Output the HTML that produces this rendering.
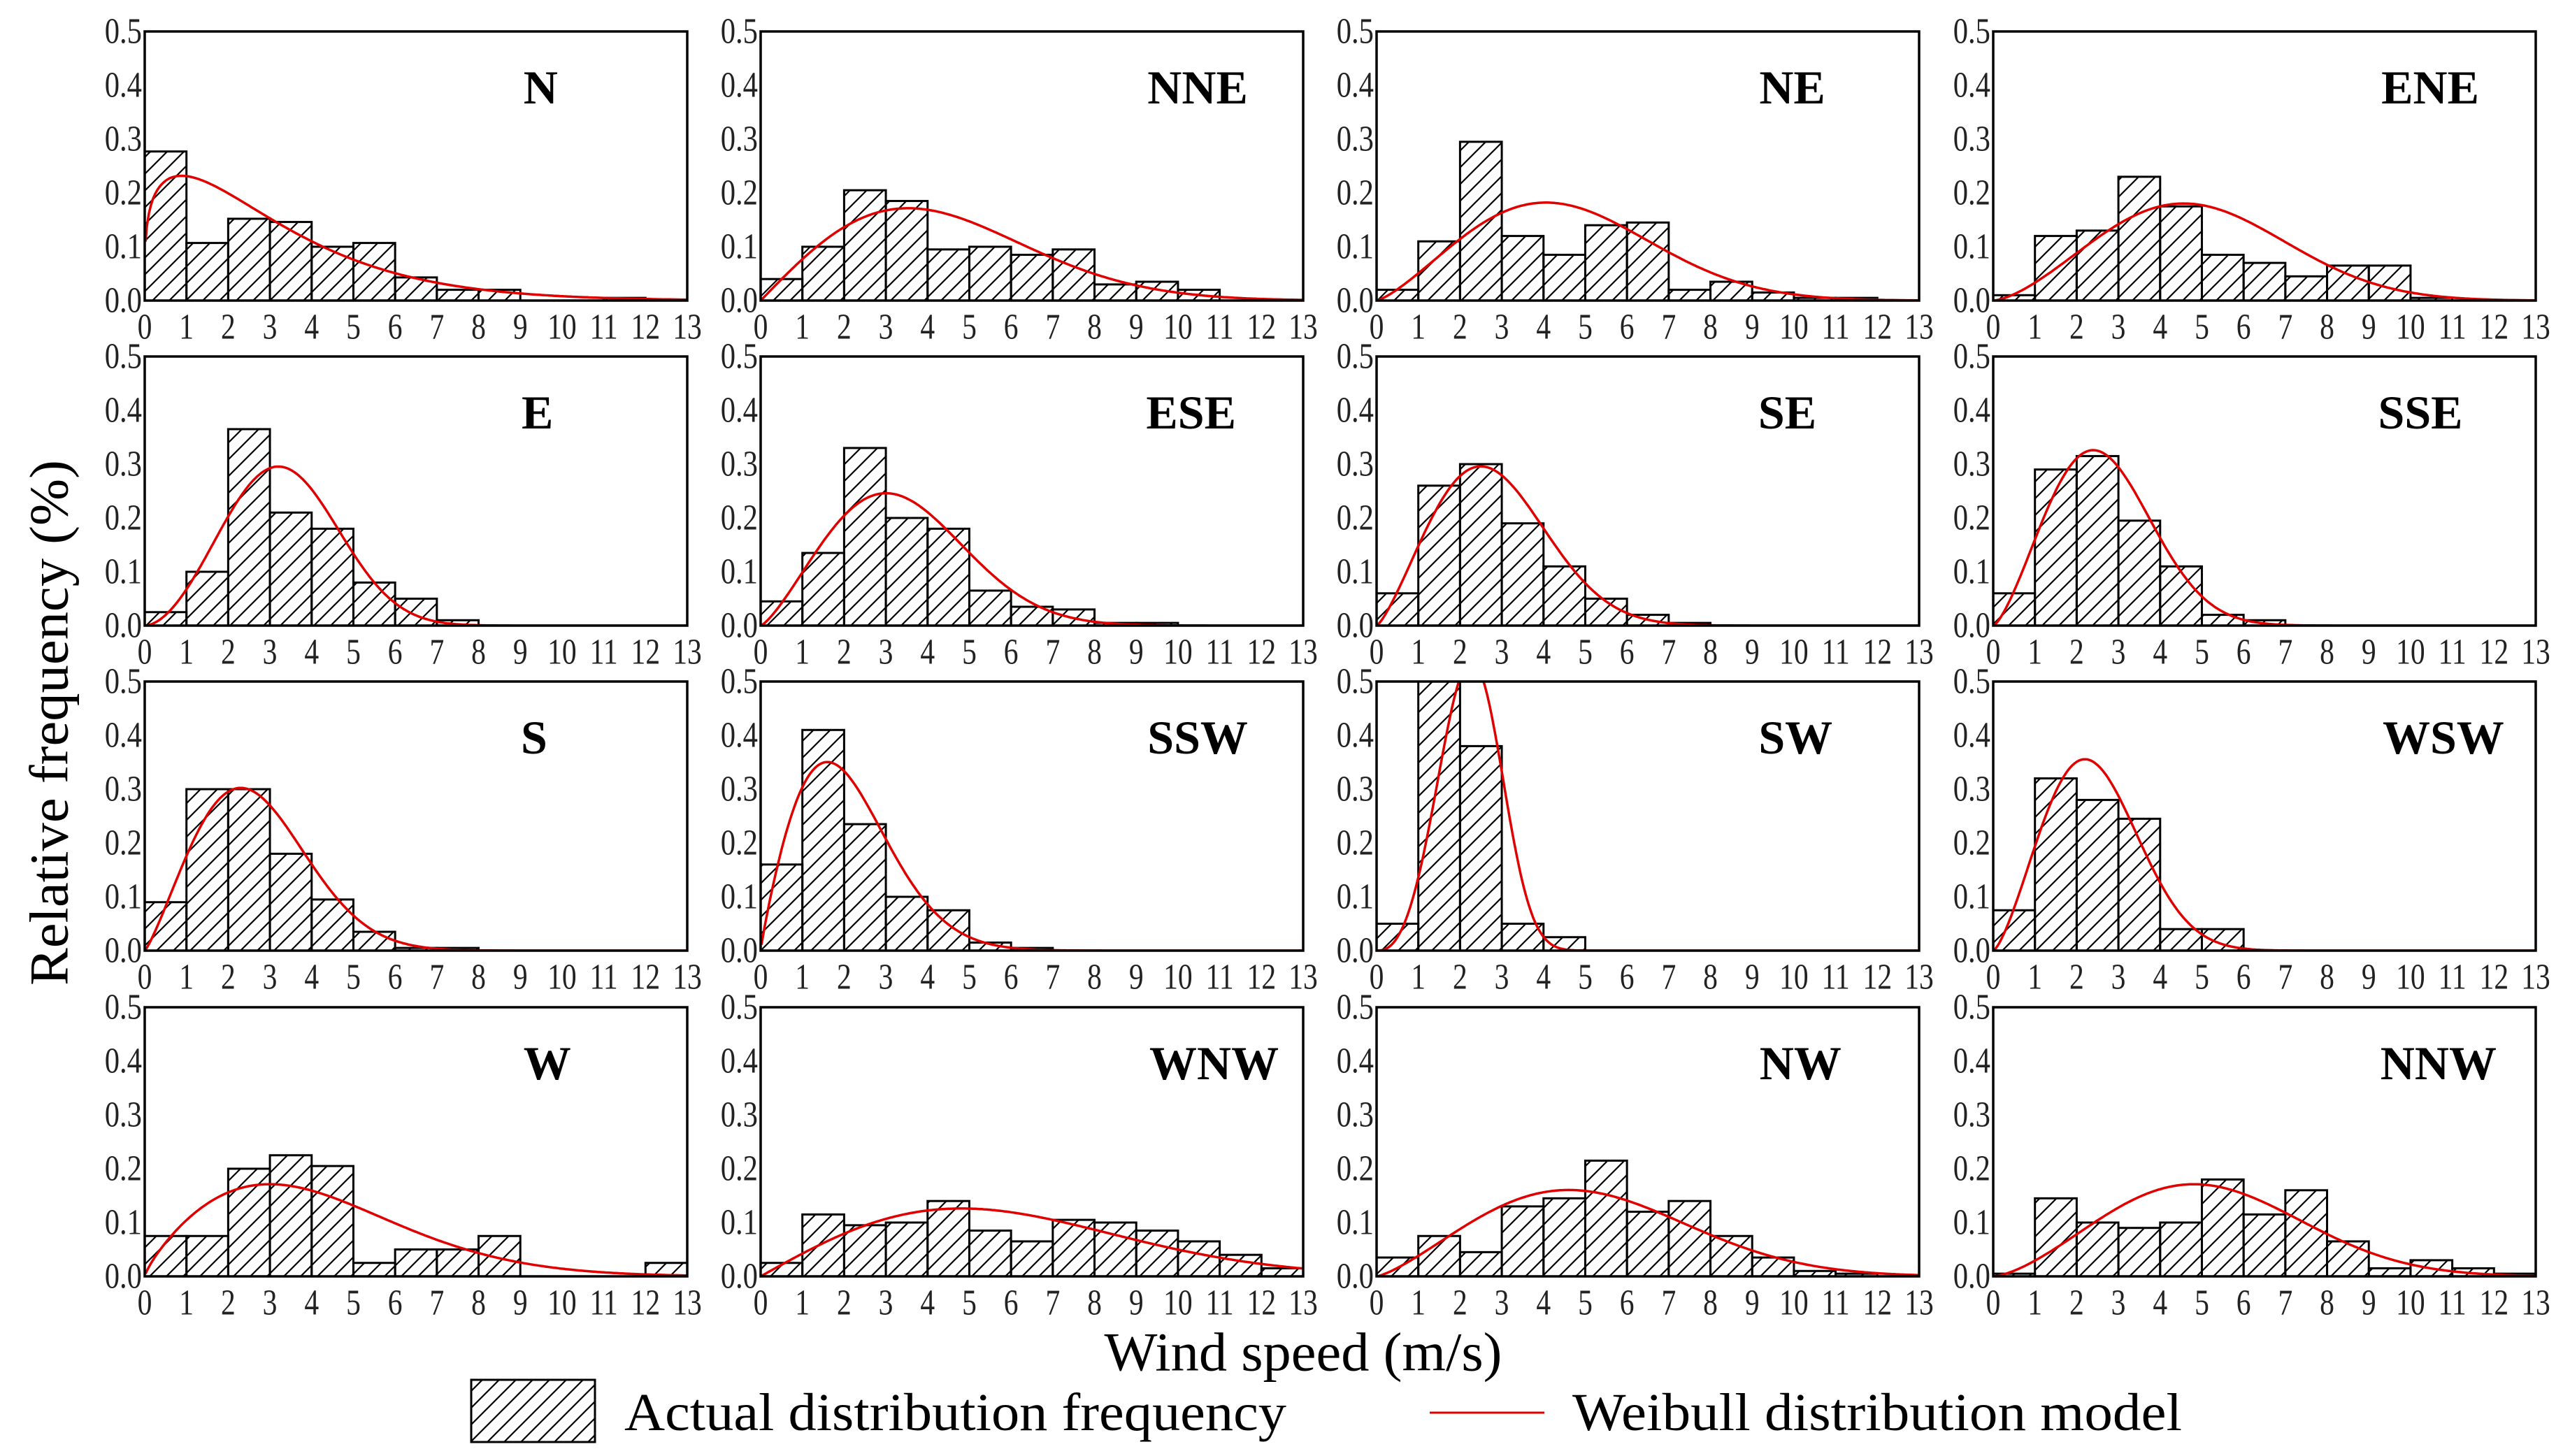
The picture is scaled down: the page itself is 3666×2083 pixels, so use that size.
<!DOCTYPE html>
<html><head><meta charset="utf-8"><style>
html,body{margin:0;padding:0;background:#fff;}
svg{display:block;font-family:"Liberation Serif",serif;}
</style></head><body>
<svg id="chart" width="3666" height="2083" viewBox="0 0 3666 2083" xmlns="http://www.w3.org/2000/svg">
<defs>
<pattern id="hatch" patternUnits="userSpaceOnUse" width="24" height="24">
<path d="M-6,30 L30,-6 M-6,6 L6,-6 M18,30 L30,18" stroke="#000" stroke-width="2.2"/>
</pattern>
</defs>
<g id="panels"></g>
<text x="0" y="0" font-size="78" text-anchor="middle" dominant-baseline="central" transform="translate(70,1034) rotate(-90)" textLength="752" lengthAdjust="spacingAndGlyphs">Relative frequency (%)</text>
<text x="1864" y="1934" font-size="78" text-anchor="middle" dominant-baseline="central" textLength="569" lengthAdjust="spacingAndGlyphs">Wind speed (m/s)</text>
<g>
<rect x="674" y="1974" width="177" height="89" fill="url(#hatch)" stroke="#000" stroke-width="3"/>
<text x="893" y="2021" font-size="76" dominant-baseline="central" textLength="947" lengthAdjust="spacingAndGlyphs">Actual distribution frequency</text>
<line x1="2045" y1="2021" x2="2209" y2="2021" stroke="#e00000" stroke-width="3"/>
<text x="2249" y="2021" font-size="76" dominant-baseline="central" textLength="872" lengthAdjust="spacingAndGlyphs">Weibull distribution model</text>
</g>
</svg>
<script>
const directions = ["N","NNE","NE","ENE","E","ESE","SE","SSE","S","SSW","SW","WSW","W","WNW","NW","NNW"];
const binEdges = [0,1,2,3,4,5,6,7,8,9,10,11,12,13];
const yTicks = [0,0.1,0.2,0.3,0.4,0.5];
const yTickLabels = ["0.0","0.1","0.2","0.3","0.4","0.5"];
const xTickLabels = ["0","1","2","3","4","5","6","7","8","9","10","11","12","13"];
const freqN   = [0.277,0.107,0.152,0.146,0.1,0.107,0.043,0.02,0.02,0,0,0.005,0];
const freqNNE = [0.04,0.1,0.205,0.185,0.095,0.1,0.085,0.095,0.03,0.035,0.02,0,0];
const freqNE  = [0.02,0.11,0.295,0.12,0.085,0.14,0.145,0.02,0.035,0.015,0.005,0.005,0];
const freqENE = [0.01,0.12,0.13,0.23,0.175,0.085,0.07,0.045,0.065,0.065,0.005,0,0];
const freqE   = [0.025,0.1,0.365,0.21,0.18,0.08,0.05,0.01,0,0,0,0,0];
const freqESE = [0.045,0.135,0.33,0.2,0.18,0.065,0.035,0.03,0.005,0.005,0,0,0];
const freqSE  = [0.06,0.26,0.3,0.19,0.11,0.05,0.02,0.005,0,0,0,0,0];
const freqSSE = [0.06,0.29,0.315,0.195,0.11,0.02,0.01,0,0,0,0,0,0];
const freqS   = [0.09,0.3,0.3,0.18,0.095,0.035,0.005,0.005,0,0,0,0,0];
const freqSSW = [0.16,0.41,0.235,0.1,0.075,0.015,0.005,0,0,0,0,0,0];
const freqSW  = [0.05,0.52,0.38,0.05,0.025,0,0,0,0,0,0,0,0];
const freqWSW = [0.075,0.32,0.28,0.245,0.04,0.04,0,0,0,0,0,0,0];
const freqW   = [0.075,0.075,0.2,0.225,0.205,0.025,0.05,0.05,0.075,0,0,0,0.025];
const freqWNW = [0.025,0.115,0.095,0.1,0.14,0.085,0.065,0.105,0.1,0.085,0.065,0.04,0.015];
const freqNW  = [0.035,0.075,0.045,0.13,0.145,0.215,0.12,0.14,0.075,0.035,0.01,0.005,0];
const freqNNW = [0.005,0.145,0.1,0.09,0.1,0.18,0.115,0.16,0.065,0.015,0.03,0.015,0.005];
const frequencies = [freqN,freqNNE,freqNE,freqENE,freqE,freqESE,freqSE,freqSSE,freqS,freqSSW,freqSW,freqWSW,freqW,freqWNW,freqNW,freqNNW];
const weibullShapeK = [1.25,2.0,2.3,2.5,2.8,2.3,2.3,2.4,2.2,1.9,3.5,2.4,1.8,2.0,2.3,2.5];
const weibullScaleC = [3.2,5.0,5.2,5.6,3.75,3.85,3.2,3.0,3.03,2.37,2.5,2.75,4.7,6.8,5.9,5.9];

const NS = "http://www.w3.org/2000/svg";
const colLeft = [207,1088,1969,2851];
const rowTop = [45,510,975,1441];
const PW = 776, PH = 385;
const titleCenter = [241,266,253,266,239,262,250,260,237,266,255,274,245,276,258,271];
const root = document.getElementById("panels");
function mk(tag, attrs, parent){ const e=document.createElementNS(NS,tag); for(const k in attrs) e.setAttribute(k,attrs[k]); parent.appendChild(e); return e; }

directions.forEach((dir, i) => {
  const x0 = colLeft[i%4], y0 = rowTop[Math.floor(i/4)];
  const xs = v => x0 + v/13*PW;
  const ys = v => y0 + PH - v/0.5*PH;
  const g = mk("g",{},root);
  
  
  const clipId = "clip"+i;
  const cp = mk("clipPath",{id:clipId},g);
  mk("rect",{x:x0,y:y0,width:PW,height:PH},cp);
  const bars = mk("g",{"clip-path":"url(#"+clipId+")"},g);
  frequencies[i].forEach((v, b) => {
    if (v <= 0) return;
    const r = mk("rect",{x:xs(binEdges[b]),y:ys(v),width:xs(binEdges[b+1])-xs(binEdges[b]),height:ys(0)-ys(v),fill:"url(#hatch)",stroke:"#000","stroke-width":3},bars);
    
    
  });
  const k = weibullShapeK[i], c = weibullScaleC[i];
  let d = "";
  for (let s = 0; s <= 260; s++) {
    const x = Math.max(0.02, s/20);
    const f = (k/c)*Math.pow(x/c,k-1)*Math.exp(-Math.pow(x/c,k));
    d += (s?"L":"M") + xs(x).toFixed(1) + "," + ys(f).toFixed(1);
  }
  const curve = mk("path",{d:d,fill:"none",stroke:"#e00000","stroke-width":3.5,"clip-path":"url(#"+clipId+")"},g);
  
  
  const fr = mk("rect",{x:x0,y:y0,width:PW,height:PH,fill:"none",stroke:"#000","stroke-width":3.5},g);
  
  
  yTicks.forEach((t, j) => {
    const tx = mk("text",{transform:"translate("+(x0-4)+","+ys(t)+") scale(0.82,1)","font-size":52,"text-anchor":"end","dominant-baseline":"central",fill:"#222"},g);
    tx.textContent = yTickLabels[j];
    
    
  });
  binEdges.forEach((t, j) => {
    const tx = mk("text",{transform:"translate("+xs(t)+","+(y0+PH+38)+") scale(0.8,1)","font-size":52,"text-anchor":"middle","dominant-baseline":"central",fill:"#222"},g);
    tx.textContent = xTickLabels[j];
    
    
  });
  const tt = mk("text",{x:x0+titleCenter[i]*2.35,y:y0+103,"font-size":68,"font-weight":"bold","text-anchor":"middle"},g);
  tt.textContent = dir;
  
  
});
</script>
</body></html>
